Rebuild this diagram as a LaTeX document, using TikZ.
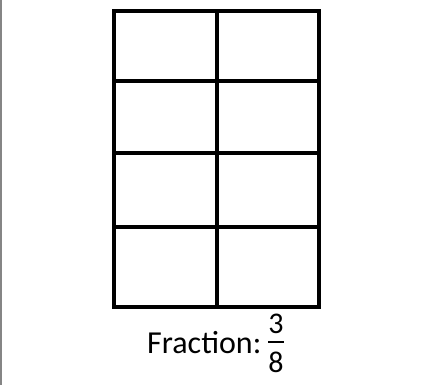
\documentclass[tikz,border=0pt]{standalone}
\usepackage{fontspec}
\setmainfont{Carlito}
\definecolor{edgegray}{HTML}{858585}
\usetikzlibrary{positioning}

\begin{document}
\begin{tikzpicture}[x=1pt,y=-1pt,
      gridline/.style={line width=3.6pt,black,line cap=rect},
      caption/.style={font=\fontsize{32}{38}\selectfont,inner sep=0pt},
      digit/.style={font=\fontsize{30}{36}\selectfont,inner sep=0pt}]
    \useasboundingbox (0,0) rectangle (426,385);
    \fill[edgegray] (0,0) rectangle (2,385);
    % grid of eight cells
    \draw[gridline] (114,11) rectangle (319,307);
    \foreach \y in {81,153,227}
      \draw[gridline] (114,\y) -- (319,\y);
    \draw[gridline] (217,11) -- (217,307);
    % caption
    \node[caption,anchor=base west] (lbl) at (147,353) {Fraction:};
    \node[digit,anchor=base] (num) at (276,333) {3};
    \node[digit,anchor=base] (den) at (276,372) {8};
    \coordinate (barl) at (268,342);
    \coordinate (barr) at (284,342);
    \draw[line width=2.8pt] (barl) -- (barr);
\end{tikzpicture}
\end{document}
